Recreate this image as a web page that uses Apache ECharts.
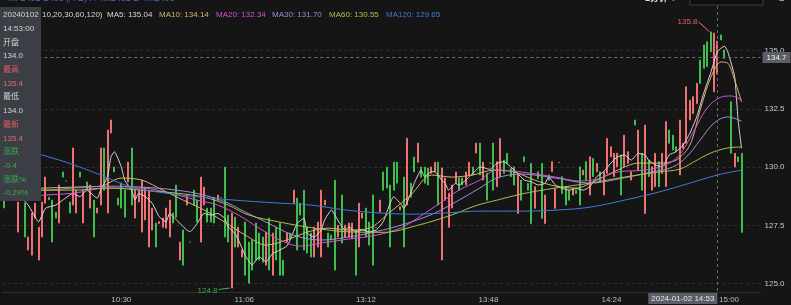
<!DOCTYPE html>
<html><head><meta charset="utf-8">
<script src="https://cdn.jsdelivr.net/npm/echarts@6/dist/echarts.min.js"></script>
<style>html,body{margin:0;padding:0;background:#151515;}#c{width:791px;height:305px;}</style>
</head><body><div id="c"></div>
<script>
// ---------- data ----------
const sessions = [['09:56','11:30'],['13:01','15:00']];
const padCats = ['+1','+2','+3','+4','+5'];
const xLabelTimes = ['10:30','11:06','13:12','13:48','14:24','15:00'];
const yTickValues = [125, 127.5, 130, 132.5, 135];

const openVals = [128.9,128.8,129.9,129.0,127.21,null,128.45,126.44,126.22,127.81,
126.01,127.0,128.45,128.7,128.58,128.07,127.6,129.79,129.4,128.5,
128.37,128.03,129.79,127.6,129.36,128.24,128.58,128.03,128.37,130.82,
128.03,131.46,130.0,128.67,129.31,129.01,129.36,130.82,127.81,128.5,
127.21,127.73,126.57,127.3,127.6,127.58,127.42,127.38,127.0,128.03,
129.23,126.01,127.3,128.37,126.78,129.01,128.58,126.78,128.37,128.24,
128.24,128.7,128.58,128.7,130.0,127.94,124.81,127.85,126.57,126.14,
127.64,126.78,126.87,127.6,127.17,127.0,125.79,127.81,125.36,127.42,
127.6,126.01,126.78,127.17,128.45,128.67,128.45,129.01,127.42,127.17,
126.14,126.57,126.14,128.37,127.17,127.08,129.44,127.0,128.8,127.0,
127.0,126.95,127.3,126.57,127.81,128.24,127.64,128.8,127.4,128.07,
129.79,130.0,129.23,130.21,130.21,128.16,129.57,128.37,129.31,130.43,
130.21,130.0,130.0,129.96,129.74,129.79,130.21,126.01,128.58,127.42,
128.24,129.31,129.53,129.53,129.23,129.66,130.0,130.6,131.03,129.44,
129.74,130.17,131.03,129.16,129.59,130.3,130.59,129.94,130.01,128.01,
129.44,130.44,129.3,130.16,128.23,129.8,130.16,127.58,129.66,129.8,
128.23,130.2,129.59,129.16,129.01,128.8,129.01,130.01,129.66,130.23,
128.8,130.37,129.8,129.8,128.8,129.73,130.44,129.59,130.01,130.52,
130.01,130.16,129.44,132.02,129.87,130.59,128.01,130.3,129.01,129.16,
130.23,129.73,129.16,131.59,131.37,130.87,129.66,130.8,131.02,132.02,
132.3,132.73,134.59,135.24,135.38,135.8,133.23,134.0,135.67,135.02,
null,132.8,130.01,130.44,130.59];

const closeVals = [128.25,129.6,129.2,129.8,128.5,null,127.0,127.0,128.03,128.45,
127.42,128.5,129.57,128.6,126.78,127.81,129.23,129.57,129.4,128.03,
130.82,129.01,129.57,129.01,129.01,129.23,127.0,128.24,130.82,129.01,
131.59,132.02,129.79,128.37,128.24,127.85,130.21,128.37,129.01,129.01,
129.44,129.14,129.01,128.24,126.57,127.66,127.81,128.24,128.58,127.6,
127.85,126.78,125.79,128.8,126.78,128.37,127.64,129.57,129.14,127.64,
127.64,127.6,128.8,128.7,127.0,126.78,128.03,126.57,127.42,126.44,
125.36,125.02,125.58,126.01,126.01,125.92,127.21,125.58,127.17,126.01,
125.36,125.36,127.17,126.95,129.01,126.44,127.94,126.44,126.31,126.14,
127.42,127.64,129.01,128.58,126.57,126.87,125.58,127.5,126.74,127.5,
127.6,127.6,125.36,128.45,128.03,127.0,126.65,125.79,127.4,128.58,
129.01,129.1,126.57,129.01,129.31,128.29,126.57,131.24,128.71,129.79,
131.03,129.57,129.31,129.23,130.0,130.21,128.37,129.96,129.53,128.88,
129.23,129.79,129.01,129.23,129.79,130.21,129.66,131.03,129.66,130.21,
128.58,130.17,129.01,130.23,131.23,129.73,130.16,129.59,129.23,129.73,
128.58,130.23,129.01,127.58,129.16,129.51,127.8,128.8,129.44,130.23,
129.08,130.2,128.87,128.37,128.58,129.08,128.87,128.37,129.87,129.44,
130.44,129.59,130.16,129.37,129.8,131.23,130.87,130.59,130.59,128.8,
131.37,130.66,129.8,131.8,131.59,129.01,131.8,129.59,130.01,130.59,
129.16,130.59,131.95,131.02,130.73,130.66,132.02,131.02,133.45,132.87,
133.02,133.59,133.59,134.24,134.31,134.95,135.75,135.4,135.45,134.66,
null,130.59,130.59,130.23,127.2];

// moving averages: [bar index, value]
const ma5 = [[0,128.9],[3,128.9],[7,128.37],[10,127.65],[12,128.23],[15,128.37],[17,128.58],[20,128.87],[22,128.73],[24,129.01],[27,128.66],[28,129.01],[30,129.59],[31,130.44],[32,130.66],[34,130.01],[35,129.44],[37,129.01],[38,128.58],[39,128.87],[41,128.73],[43,128.44],[45,127.87],[47,127.65],[48,128.01],[50,127.73],[52,127.44],[53,127.3],[54,127.23],[56,127.58],[58,128.01],[60,127.94],[62,128.01],[64,127.8],[65,127.44],[67,127.15],[68,126.87],[70,126.2],[72,125.8],[74,126.15],[76,125.94],[78,126.3],[80,126.44],[82,126.6],[83,126.87],[85,127.58],[87,127.8],[88,127.15],[90,127.0],[92,127.3],[93,127.73],[95,128.16],[96,127.94],[98,127.44],[99,127.3],[100,127.44],[102,127.22],[104,127.3],[106,127.22],[108,127.3],[110,127.65],[112,128.44],[113,128.73],[115,128.44],[116,128.23],[118,128.87],[119,129.3],[121,129.87],[122,129.59],[124,129.8],[125,129.8],[127,129.44],[128,129.3],[129,129.01],[131,129.3],[132,129.23],[134,129.44],[135,129.59],[137,129.87],[138,130.01],[140,129.94],[141,129.9],[143,130.16],[145,130.23],[147,130.01],[149,129.73],[151,129.44],[153,129.37],[155,129.23],[157,129.3],[158,129.58],[160,129.23],[162,129.08],[164,129.01],[166,129.08],[168,129.01],[170,129.16],[172,129.59],[174,129.8],[176,130.16],[178,130.44],[180,130.52],[182,130.3],[184,130.59],[186,130.52],[187,130.3],[189,130.09],[191,130.01],[193,130.52],[195,130.66],[197,130.94],[199,131.45],[201,132.16],[203,133.16],[205,134.02],[207,134.95],[209,135.19],[210,134.95],[212,133.88],[213,132.02],[214,130.8]];
const ma10 = [[0,129.0],[6,129.05],[12,129.1],[20,129.14],[28,129.18],[34,129.53],[40,129.44],[46,129.01],[52,128.58],[58,128.16],[64,127.64],[70,127.08],[76,126.65],[82,126.87],[88,127.21],[94,127.38],[100,127.3],[106,127.38],[112,128.07],[118,128.8],[124,129.66],[130,129.57],[136,129.66],[142,129.87],[148,129.79],[154,129.44],[160,129.18],[166,129.1],[172,129.44],[178,129.87],[184,130.17],[190,130.17],[195,130.3],[199,130.94],[202,132.45],[205,133.82],[208,134.51],[210,134.46],[212,133.73],[214,132.79]];
const ma20 = [[0,128.7],[12,128.8],[20,128.88],[30,129.1],[40,129.1],[48,128.88],[56,128.58],[62,128.37],[68,127.94],[74,127.38],[80,126.87],[86,126.61],[92,126.74],[100,126.91],[108,127.08],[115,127.38],[120,127.81],[126,128.41],[132,129.01],[138,129.44],[143,129.87],[150,129.79],[160,129.57],[167,129.4],[172,129.48],[178,129.79],[186,129.87],[192,130.09],[196,130.52],[200,131.5],[204,132.53],[208,133.0],[211,133.05],[214,132.88]];
const ma30 = [[0,129.0],[12,129.01],[20,129.1],[30,129.18],[40,129.14],[50,129.01],[58,128.8],[65,128.45],[70,128.07],[76,127.64],[84,127.08],[92,126.87],[100,127.0],[110,127.3],[118,127.64],[125,128.03],[132,128.58],[138,129.1],[143,129.53],[150,129.7],[160,129.53],[170,129.31],[178,129.48],[188,129.79],[194,130.0],[198,130.43],[202,131.16],[206,131.89],[210,132.15],[214,131.97]];
const ma60 = [[0,129.0],[12,129.01],[20,129.01],[30,129.1],[40,129.01],[50,128.88],[58,128.71],[65,128.37],[71,127.94],[80,127.64],[90,127.38],[100,127.22],[110,127.2],[120,127.5],[130,127.95],[137,128.35],[143,128.58],[150,128.84],[160,129.1],[170,129.31],[180,129.57],[190,129.79],[196,129.91],[200,130.21],[205,130.6],[210,130.82],[214,130.86]];
const ma120 = [[0,131.1],[11,130.52],[18,130.21],[28,129.66],[37,129.14],[47,128.88],[57,128.71],[67,128.58],[79,128.46],[89,128.37],[99,128.16],[109,128.03],[118,127.98],[128,128.03],[138,128.11],[151,128.11],[161,128.16],[170,128.28],[180,128.58],[190,128.93],[199,129.31],[207,129.66],[214,129.87]];

const maNames = ['MA5','MA10','MA20','MA30','MA60','MA120'];
const maLegendValues = ['135.04','134.14','132.34','131.70','130.55','129.65'];
const maSeries = [ma5, ma10, ma20, ma30, ma60, ma120];

const panelRows = ['20240102','14:53:00','开盘','134.0','最高','135.4','最低','134.0','最新','135.4','涨跌','-0.4','涨跌%','-0.29%'];
const crossTime = '14:53';
const crossPrice = 134.7;
const crossDateText = '2024-01-02 14:53';
const titleText = 'IM 2401-2406 (A-B) A=IM2401 B=IM2406';
const periodText = '1分钟 ▾';

// ---------- styles ----------
const FONT = "'Liberation Sans','Noto Sans CJK SC',sans-serif";
const UP = '#ee7070', DOWN = '#3dbd4b';
const maColors = ['#d8d8d8','#d6b56c','#d452d4','#a28ad8','#a4c24c','#3f7bd6'];
const maSmooth = [0.15,0.3,0.35,0.35,0.35,0.35];
const panelColors = ['#d4d4d4','#d4d4d4','#d4d4d4','#d4d4d4','#e06060','#e06c6c','#d4d4d4','#d4d4d4','#e06060','#e06c6c','#3ea94a','#3ea94a','#3ea94a','#3ea94a'];
const legendX = [107,159,216,272,329,386];
const xLabelPadRight = [0,2,7,10,12,25];

function two(n){return (n<10?'0':'')+n;}
function buildTimes(sess){
  const out=[];
  sess.forEach(function(s){
    let a=s[0].split(':').map(Number), b=s[1].split(':').map(Number);
    let h=a[0], m=a[1];
    while(h<b[0]||(h===b[0]&&m<=b[1])){ out.push(two(h)+':'+two(m)); m++; if(m===60){m=0;h++;} }
  });
  return out;
}
const times = buildTimes(sessions);
const categories = times.concat(padCats);

const candleData = openVals.map(function(o,i){
  const c = closeVals[i];
  if(o==null||c==null) return '-';
  return [o, c, Math.min(o,c), Math.max(o,c)];
});

const rich = {};
xLabelPadRight.forEach(function(p,k){ rich['s'+k] = {fontSize:8, color:'#bdbdbd', fontFamily:FONT, padding:[0,p,0,0]}; });

const chart = echarts.init(document.getElementById('c'), null, {renderer:'canvas'});
const series = [{
  type:'candlestick', name:'K', data:candleData, barWidth:1.5, z:2,
  itemStyle:{color:UP, color0:DOWN, borderColor:UP, borderColor0:DOWN, borderWidth:1},
  markLine:{
    silent:true, symbol:['none','none'], animation:false,
    lineStyle:{color:'#6f6f6f', type:[3,3], width:1},
    data:[{yAxis:crossPrice, label:{show:true, position:'end', distance:2, formatter:crossPrice.toFixed(1),
      color:'#f0f0f0', backgroundColor:'#5a5e66', padding:[2,4,1,4], fontSize:8, fontFamily:FONT}}]
  }
}];
maSeries.forEach(function(d,k){
  series.push({type:'line', name:maNames[k], data:d, showSymbol:false, smooth:maSmooth[k], z:3,
    lineStyle:{width:1, color:maColors[k]}, itemStyle:{color:maColors[k]}});
});

chart.setOption({
  backgroundColor:'#151515',
  animation:false,
  grid:{left:2.4, right:30.5, top:20, bottom:13},
  xAxis:{type:'category', data:categories, boundaryGap:true,
    axisLine:{lineStyle:{color:'#303030'}}, axisTick:{show:false}, splitLine:{show:false},
    axisLabel:{margin:4, fontSize:8, color:'#bdbdbd', fontFamily:FONT,
      interval:function(i,v){return xLabelTimes.indexOf(v)>=0;},
      formatter:function(v){const k=xLabelTimes.indexOf(v); return k>=0?'{s'+k+'|'+v+'}':'';},
      rich:rich}},
  yAxis:{type:'value', position:'right', min:124.64, max:136.31, scale:true,
    axisLine:{show:false}, axisTick:{show:false, customValues:yTickValues},
    axisLabel:{customValues:yTickValues, margin:4, fontSize:8, color:'#c8c8c8', fontFamily:FONT,
      formatter:function(v){return Number(v).toFixed(1);}},
    splitLine:{show:true, lineStyle:{color:'#303030', type:[3,3]}}},
  series:series
});

// ---------- overlays positioned from the scales ----------
let maxI=0, minI=0, maxV=-1e9, minV=1e9;
openVals.forEach(function(o,i){ const c=closeVals[i]; if(o==null||c==null) return;
  const hi=Math.max(o,c), lo=Math.min(o,c);
  if(hi>maxV){maxV=hi;maxI=i;} if(lo<minV){minV=lo;minI=i;} });
const pMax = chart.convertToPixel({xAxisIndex:0,yAxisIndex:0},[maxI,maxV]);
const pMin = chart.convertToPixel({xAxisIndex:0,yAxisIndex:0},[minI,minV]);
const crossIdx = categories.indexOf(crossTime);
const pCross = chart.convertToPixel({xAxisIndex:0,yAxisIndex:0},[crossIdx,crossPrice]);
const pBottom = chart.convertToPixel({xAxisIndex:0,yAxisIndex:0},[crossIdx,124.64]);

const g = [];
g.push({type:'line', z:50, silent:true, shape:{x1:pCross[0],y1:0,x2:pCross[0],y2:pBottom[1]},
  style:{stroke:'#6f6f6f', lineWidth:1, lineDash:[3,3]}});
g.push({type:'text', z:60, x:pCross[0], y:pBottom[1]+1, style:{text:crossDateText, align:'right', verticalAlign:'top',
  fill:'#e6e6e6', backgroundColor:'#5a5e66', padding:[2,3,1,3], font:'8px '+FONT}});
g.push({type:'line', z:50, shape:{x1:pMax[0]-1,y1:pMax[1],x2:pMax[0]-12,y2:pMax[1]-10}, style:{stroke:UP, lineWidth:1}});
g.push({type:'text', z:50, x:pMax[0]-13, y:pMax[1]-10.5, style:{text:maxV.toFixed(1), align:'right', verticalAlign:'middle', fill:'#e06060', font:'8px '+FONT}});
g.push({type:'line', z:50, shape:{x1:pMin[0]-2,y1:pMin[1],x2:pMin[0]-13,y2:pMin[1]+1.5}, style:{stroke:DOWN, lineWidth:1}});
g.push({type:'text', z:50, x:pMin[0]-14, y:pMin[1]+2.5, style:{text:minV.toFixed(1), align:'right', verticalAlign:'middle', fill:'#3ea94a', font:'8px '+FONT}});
g.push({type:'text', z:50, x:8, y:-1, style:{text:titleText, verticalAlign:'middle', fill:'#3c6fd4', font:'9px '+FONT}});
g.push({type:'text', z:50, x:645, y:-1, style:{text:periodText, verticalAlign:'middle', fill:'#e0e0e0', font:'bold 9px '+FONT}});
g.push({type:'rect', z:50, shape:{x:690,y:-6,width:73,height:11}, style:{fill:'#0f0f0f', stroke:'#34405a', lineWidth:1}});
g.push({type:'text', z:50, x:779, y:-1, style:{text:'≡', verticalAlign:'middle', fill:'#bbbbbb', font:'10px '+FONT}});
g.push({type:'text', z:50, x:42, y:15, style:{text:'10,20,30,60,120)', verticalAlign:'middle', fill:'#d4d4d4', font:'8px '+FONT}});
maNames.forEach(function(n,k){
  g.push({type:'text', z:50, x:legendX[k], y:15, style:{text:n+': '+maLegendValues[k], verticalAlign:'middle', fill:maColors[k], font:'8px '+FONT}});
});
g.push({type:'rect', z:70, shape:{x:0,y:7,width:41,height:194}, style:{fill:'#3b3e45'}});
panelRows.forEach(function(t,k){
  g.push({type:'text', z:71, x:3, y:15+k*13.7, style:{text:t, verticalAlign:'middle', fill:panelColors[k], font:'8px '+FONT}});
});
chart.setOption({graphic:g});
</script></body></html>
